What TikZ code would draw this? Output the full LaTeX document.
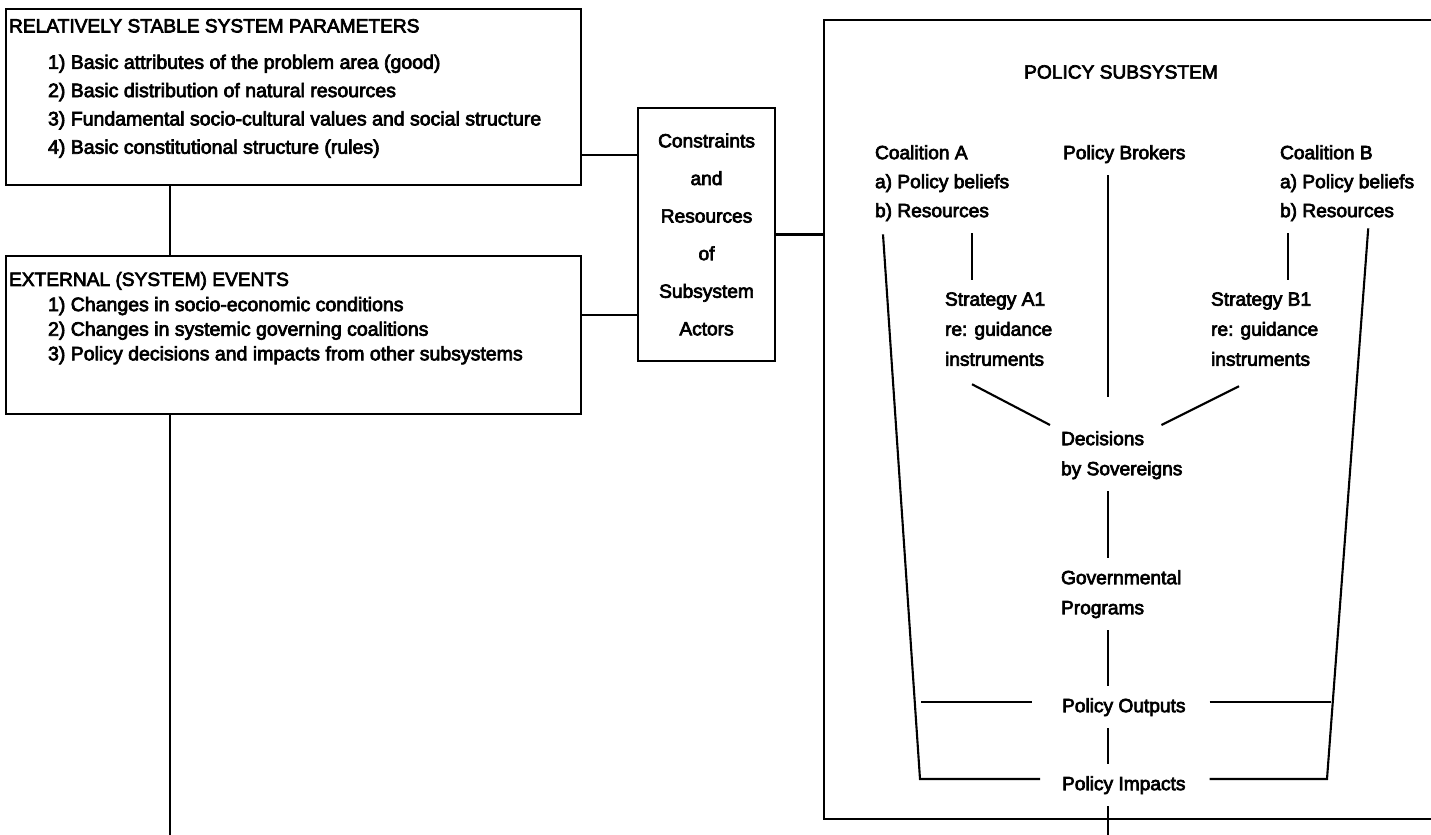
\documentclass[tikz,border=0pt]{standalone}
\usepackage{fontspec}
\setmainfont{Liberation Sans}[FakeBold=3.5]
\usetikzlibrary{
    positioning,
    calc
}

\begin{document}
\begin{tikzpicture}[
    x=0.02cm, y=-0.02cm,
    line width=1.2pt,
    font=\fontsize{10.9}{13}\selectfont,
    panel/.style={
        rectangle,
        draw,
        inner sep=0pt,
        anchor=north west
    },
    blurb/.style={
        inner sep=0pt,
        anchor=north west,
        align=left
    },
    stage/.style={
        inner sep=0pt,
        outer ysep=7pt,
        anchor=north west,
        align=left
    },
    leading/.style={font=\fontsize{10.9}{#1}\selectfont}
]

\useasboundingbox (0,0) rectangle (1431,835);

% helper points for the connectors
\coordinate (spine) at (170,840);
\coordinate (tapA) at (600,155);
\coordinate (tapB) at (600,315);
\coordinate (xA) at (972,0);
\coordinate (xB) at (1288,0);
\coordinate (axis) at (1108,840);
\coordinate (footL) at (920,779);
\coordinate (footR) at (1327,779);
\coordinate (outL) at (921,702);
\coordinate (outR) at (1331,702);

% left column
\node[panel, minimum width=11.5cm, minimum height=3.52cm] (stable) at (5,8) {};
\node[blurb, below right=0.2cm and 0.06cm of stable.north west] (stable-head)
    {RELATIVELY STABLE SYSTEM PARAMETERS};
\node[blurb, font=\fontsize{11.1}{16.1}\selectfont, below right=0.4cm and 0.78cm of stable-head.south west] (stable-list)
    {1) Basic attributes of the problem area (good)\\
     2) Basic distribution of natural resources\\
     3) Fundamental socio-cultural values and social structure\\
     4) Basic constitutional structure (rules)};

\node[panel, minimum width=11.5cm, minimum height=3.16cm] (events) at (5,255) {};
\node[blurb, below right=0.32cm and 0.06cm of events.north west] (events-head)
    {EXTERNAL (SYSTEM) EVENTS};
\node[blurb, font=\fontsize{11.1}{14}\selectfont, below right=0.1cm and 0.78cm of events-head.south west] (events-list)
    {1) Changes in socio-economic conditions\\
     2) Changes in systemic governing coalitions\\
     3) Policy decisions and impacts from other subsystems};

\node[panel, minimum width=2.74cm, minimum height=5.06cm, align=center, leading=21.4pt] (actors) at (637,107)
    {Constraints\\and\\Resources\\of\\Subsystem\\Actors};

% policy subsystem
\node[panel, minimum width=12.4cm, minimum height=15.98cm] (subsys) at (823,19) {};
\node (subsys-head) at (1121,72) {POLICY SUBSYSTEM};

\node[stage, leading=16.5pt] (coalA) at (874,133) {Coalition A\\a) Policy beliefs\\b) Resources};
\node[stage] (brokers) at (1062,133) {Policy Brokers};
\node[stage, leading=16.5pt] (coalB) at (1279,133) {Coalition B\\a) Policy beliefs\\b) Resources};
\node[stage, leading=17.1pt] (stratA) at (944,280) {Strategy A1\\re: guidance\\instruments};
\node[stage, leading=17.1pt] (stratB) at (1210,280) {Strategy B1\\re: guidance\\instruments};
\node[stage, leading=17.1pt] (decide) at (1060,419) {Decisions\\by Sovereigns};
\node[stage, leading=17.1pt] (programs) at (1060,558) {Governmental\\Programs};
\node[stage] (outputs) at (1061,686) {Policy Outputs};
\node[stage] (impacts) at (1061,764) {Policy Impacts};

% left side links
\draw (stable.south -| spine) -- (events.north -| spine);
\draw (events.south -| spine) -- (spine);
\draw (stable.east |- tapA) -- (actors.west |- tapA);
\draw (events.east |- tapB) -- (actors.west |- tapB);
\draw (actors.east) -- (actors.east -| subsys.west);

% inside the subsystem
\draw (coalA.south -| xA) -- (stratA.north -| xA);
\draw (coalB.south -| xB) -- (stratB.north -| xB);
\draw[shorten >=0.44cm] (brokers.south -| axis) -- (decide.north -| axis);
\draw ($(stratA.south -| xA)+(0,6)$) -- ($(decide.north west)+(-10,6)$);
\draw ($(stratB.south west)+(29,8)$) -- ($(decide.north east)+(-22,6)$);
\draw (decide.south -| axis) -- (programs.north -| axis);
\draw (programs.south -| axis) -- (outputs.north -| axis);
\draw (outputs.south -| axis) -- (impacts.north -| axis);
\draw (impacts.south -| axis) -- (axis);

\draw[shorten >=0.42cm] ($(coalA.south west)+(9,1)$) -- (footL) -- (footL -| impacts.west);
\draw[shorten >=0.46cm] ($(coalB.south east)+(-47,-5)$) -- (footR) -- (footR -| impacts.east);
\draw[shorten >=0.58cm] (outL) -- (outL -| outputs.west);
\draw[shorten <=0.46cm] (outR -| outputs.east) -- (outR);

\end{tikzpicture}
\end{document}
